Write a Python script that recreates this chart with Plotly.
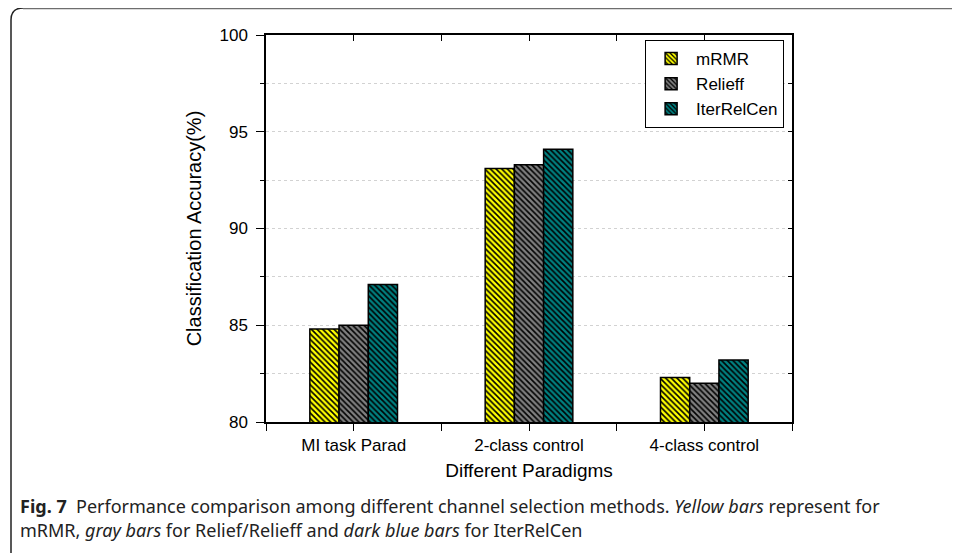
import plotly.graph_objects as go

categories = ["MI task Parad", "2-class control", "4-class control"]
methods = ["mRMR", "Relieff", "IterRelCen"]
mrmr = [84.8, 93.1, 82.3]
relieff = [85.0, 93.3, 82.0]
iterrelcen = [87.1, 94.1, 83.2]
colors = ["#FFFF00", "#808080", "#008080"]
y_ticks = [80, 85, 90, 95, 100]

x_pos = list(range(len(categories)))

fig = go.Figure()
for name, vals, col in zip(methods, [mrmr, relieff, iterrelcen], colors):
    fig.add_trace(go.Bar(
        x=x_pos, y=vals, name=name,
        marker=dict(color=col, line=dict(color="black", width=1.5),
                    pattern=dict(shape="\\", fgcolor="black", bgcolor=col,
                                 size=4, solidity=0.4, fillmode="replace")),
    ))
# empty helper trace so the mirrored (inward-tick) axes are drawn
fig.add_trace(go.Scatter(x=[None], y=[None], xaxis="x2", yaxis="y2",
                         showlegend=False, hoverinfo="skip"))

# plot area in figure pixels (page has an 8px body margin)
OFF = 8
L, R, T, B = 266 - OFF, 792 - OFF, 35 - OFF, 422 - OFF
W, H = 960, 553

def px2x(px):
    return (px - OFF - L) / (R - L)

def py2y(py):
    return (B - (py - OFF)) / (B - T)

xt = [-0.5, 0, 0.5, 1, 1.5, 2, 2.5]
xtt = ["", categories[0], "", categories[1], "", categories[2], ""]
yt_all = [80, 82.5, 85, 87.5, 90, 92.5, 95, 97.5, 100]

fig.update_layout(
    width=W, height=H,
    margin=dict(l=L, r=W - R, t=T, b=H - B, autoexpand=False),
    paper_bgcolor="white", plot_bgcolor="white",
    barmode="group", bargap=0.5, bargroupgap=0,
    font=dict(family="Liberation Sans, Arial", color="black", size=17),
    showlegend=True,
    legend=dict(x=0.985, y=0.987, xanchor="right", yanchor="top",
                bordercolor="black", borderwidth=1, bgcolor="white",
                font=dict(size=17), tracegroupgap=0, itemwidth=40),
    xaxis=dict(range=[-0.5, 2.5], tickmode="array", tickvals=xt, ticktext=xtt,
               ticks="outside", ticklen=7, tickwidth=1.2, tickcolor="black",
               showline=True, linecolor="black", linewidth=1.5, mirror=True,
               showgrid=False, zeroline=False,
               title=dict(text="Different Paradigms", font=dict(size=19), standoff=10),
               tickfont=dict(size=17)),
    yaxis=dict(range=[80, 100], tickmode="array", tickvals=y_ticks,
               ticks="outside", ticklen=8, tickwidth=1.2, tickcolor="black",
               ticklabelstandoff=5,
               showline=True, linecolor="black", linewidth=1.5, mirror=True,
               showgrid=True, gridcolor="#d2d2d2", griddash="dot", gridwidth=1,
               zeroline=False,
               minor=dict(dtick=2.5, tick0=80, ticks="outside", ticklen=4,
                          tickcolor="black", showgrid=True, gridcolor="#d2d2d2",
                          griddash="dot", gridwidth=1),
               title=dict(text="Classification Accuracy(%)", font=dict(size=20), standoff=12),
               tickfont=dict(size=17)),
    xaxis2=dict(overlaying="x", side="top", range=[-0.5, 2.5], tickmode="array",
                tickvals=xt, showticklabels=False, ticks="inside", ticklen=6,
                tickcolor="black", tickwidth=1.2, showgrid=False, zeroline=False,
                showline=False),
    yaxis2=dict(overlaying="y", side="right", range=[80, 100], tickmode="array",
                tickvals=yt_all, showticklabels=False, ticks="inside", ticklen=4,
                tickcolor="black", tickwidth=1.2, showgrid=False, zeroline=False,
                showline=False),
)

# figure frame
fig.add_shape(type="path", xref="paper", yref="paper",
              path=f"M {px2x(11)},{py2y(560)} L {px2x(11)},{py2y(20)} Q {px2x(11)},{py2y(8)} {px2x(23)},{py2y(8)}",
              line=dict(color="#222222", width=1.5), layer="above")
fig.add_shape(type="line", xref="paper", yref="paper",
              x0=px2x(23), x1=px2x(975), y0=py2y(8), y1=py2y(8),
              line=dict(color="#6e6e6e", width=2.5), layer="above")

cap1 = ("<b>Fig. 7</b>  Performance comparison among different channel selection methods. "
        "<i>Yellow bars</i> represent for")
cap2 = "mRMR, <i>gray bars</i> for Relief/Relieff and <i>dark blue bars</i> for IterRelCen"
for txt, py in [(cap1, 506), (cap2, 530)]:
    fig.add_annotation(text=txt, xref="paper", yref="paper",
                       x=px2x(18), y=py2y(py), xanchor="left", yanchor="middle",
                       showarrow=False,
                       font=dict(family="Noto Sans", size=18, color="#222222"))

fig.write_html("out.html")
